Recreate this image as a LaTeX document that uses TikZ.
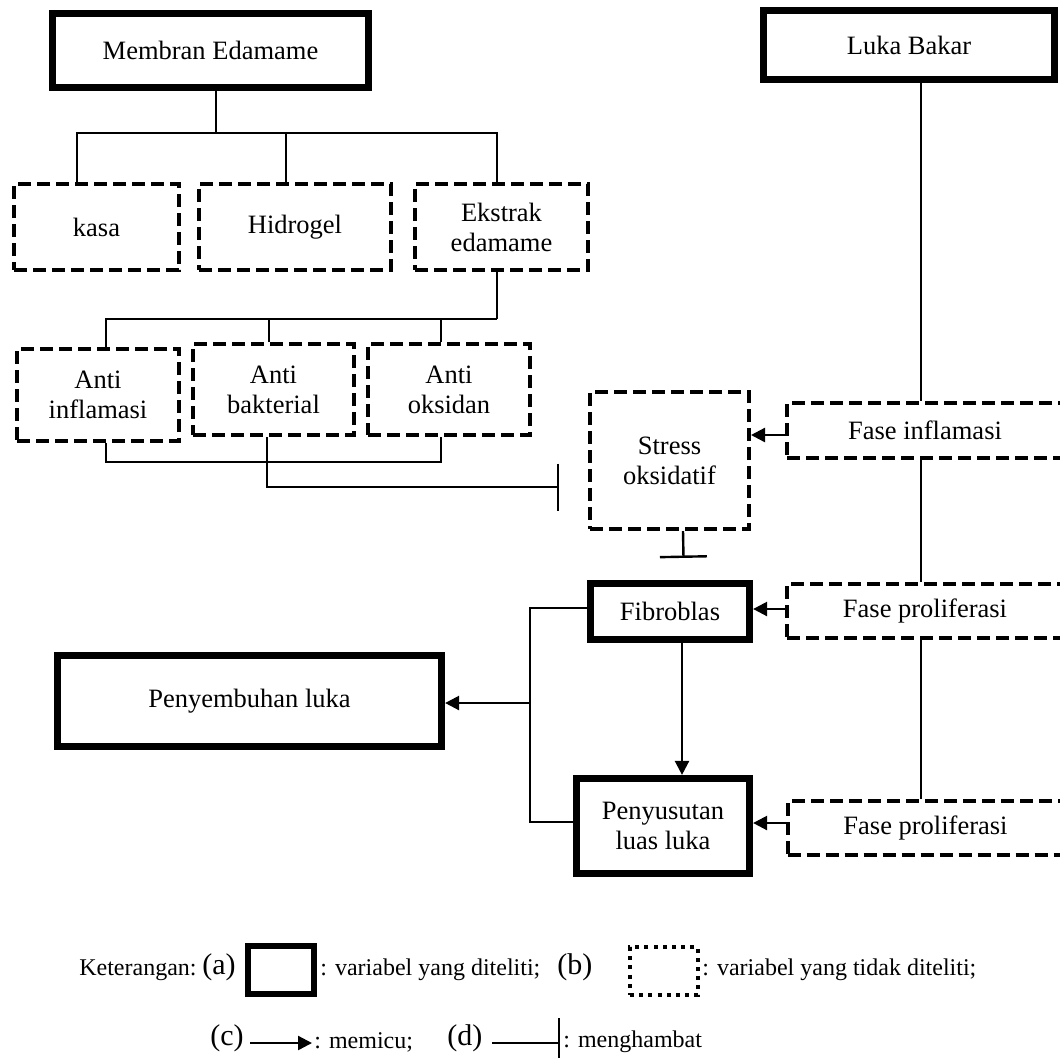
\documentclass[tikz,border=0pt]{standalone}
\usepackage{fontspec}
\setmainfont{Liberation Serif}
\usetikzlibrary{arrows.meta, positioning}

\begin{document}
\begin{tikzpicture}[
    x=0.5pt, y=-0.5pt,
    solidbox/.style={rectangle, draw, line width=3.6pt, align=center, inner sep=0pt,
                     font=\fontsize{13.25}{15}\selectfont},
    dashbox/.style={rectangle, draw, line width=2pt, dash pattern=on 6.5pt off 3pt,
                    align=center, inner sep=0pt, font=\fontsize{13.25}{15}\selectfont},
    link/.style={line width=1.2pt},
    arrow/.style={link, -{Triangle[length=7pt, width=7pt]}},
    inhibit/.style={link, -{Bar[width=23.5pt]}},
    legend/.style={inner sep=0pt, font=\fontsize{12}{14}\selectfont},
    tag/.style={inner sep=0pt, font=\fontsize{15}{17}\selectfont}
  ]
    \useasboundingbox (0,0) rectangle (1060,1057);

    % top row
    \node[solidbox, minimum width=158pt, minimum height=37pt] (memb) at (210.5,50.5) {Membran Edamame};
    \node[solidbox, minimum width=145.5pt, minimum height=34.5pt] (luka) at (909,45) {Luka Bakar};

    \node[dashbox, minimum width=82.5pt, minimum height=43pt] (kasa) at (96.5,227) {kasa};
    \node[dashbox, minimum width=96pt, minimum height=43pt] (hidro) at (295,227) {Hidrogel};
    \node[dashbox, minimum width=86.5pt, minimum height=43pt] (ekstr) at (501.5,227) {Ekstrak\\edamame};

    \node[dashbox, minimum width=81pt, minimum height=46pt] (ainf) at (98,395) {Anti\\inflamasi};
    \node[dashbox, minimum width=80.5pt, minimum height=45.5pt] (abak) at (273.5,389.5) {Anti\\bakterial};
    \node[dashbox, minimum width=81pt, minimum height=45.5pt] (aoks) at (449,389.5) {Anti\\oksidan};

    \node[dashbox, minimum width=79.5pt, minimum height=68.5pt] (stress) at (669.5,460.5) {Stress\\oksidatif};
    \node[dashbox, minimum width=138pt, minimum height=27.5pt] (inf) at (925,430.5) {Fase inflamasi};

    \node[solidbox, minimum width=79.5pt, minimum height=28pt] (fib) at (670,611.5) {Fibroblas};
    \node[dashbox, minimum width=138pt, minimum height=27pt] (pro1) at (925,611) {Fase proliferasi};
    \node[solidbox, minimum width=192pt, minimum height=45.5pt] (heal) at (249.5,701) {Penyembuhan luka};
    \node[solidbox, minimum width=86.5pt, minimum height=47.5pt] (pen) at (663,826) {Penyusutan\\luas luka};
    \node[dashbox, minimum width=138pt, minimum height=27pt] (pro2) at (925.5,828) {Fase proliferasi};

    % membran tree
    \coordinate (bus1) at (216,133);
    \draw[link] ([xshift=2.75pt]memb.south) -- (bus1);
    \draw[link] ([xshift=-9.75pt]kasa.north) |- (bus1) -| ([xshift=-2.25pt]ekstr.north);
    \draw[link] ([xshift=-4.5pt]hidro.north) -- ([xshift=-4.5pt]hidro.north |- bus1);

    \coordinate (bus2) at (497,319);
    \draw[link] ([xshift=-2.25pt]ekstr.south) -- (bus2);
    \draw[link] ([xshift=4pt]ainf.north) |- (bus2);
    \draw[link] ([xshift=-2.25pt]abak.north) -- ([xshift=-2.25pt]abak.north |- bus2);
    \draw[link] ([xshift=-4pt]aoks.north) -- ([xshift=-4pt]aoks.north |- bus2);

    \coordinate (bus3) at (441,462);
    \draw[link] ([xshift=4pt]ainf.south) |- (bus3) -- ([xshift=-4pt]aoks.south);
    \draw[inhibit] ([xshift=-3.25pt]abak.south) |- ([xshift=-14.5pt, yshift=-13.25pt]stress.west);

    % luka bakar chain
    \draw[link] ([xshift=-2pt]inf.north) -- ([xshift=-2pt]inf.north |- luka.south);
    \draw[arrow] ([yshift=-2.25pt]inf.west) -- ([yshift=-2.25pt]inf.west -| stress.east);
    \draw[inhibit] ([xshift=6.75pt]stress.south) -- ([xshift=6.75pt, yshift=11pt]fib.north);
    \draw[link] ([xshift=-2pt]inf.south) -- ([xshift=-2pt]pro1.north);
    \draw[arrow] ([yshift=1pt]pro1.west) -- ([yshift=1pt]pro1.west -| fib.east);
    \draw[link] ([xshift=-2pt]pro1.south) -- ([xshift=-2.25pt]pro2.north);
    \draw[arrow] ([yshift=2.5pt]pro2.west) -- ([yshift=2.5pt]pro2.west -| pen.east);
    \draw[arrow] ([xshift=6pt]fib.south) -- ([xshift=6pt]fib.south |- pen.north);

    \coordinate (rail) at (530,703);
    \draw[link] ([yshift=1.75pt]fib.west) -| (rail) |- ([yshift=2pt]pen.west);
    \draw[arrow] (rail) -- (rail -| heal.east);

    % legend
    \node[legend, anchor=east] (ket) at (197,970) {Keterangan:};
    \node[tag, anchor=west] (la) at (202,967) {(a)};
    \node[solidbox, line width=3pt, minimum width=33pt, minimum height=24pt] (keya) at (281,970) {};
    \node[legend, anchor=west] (texta) at (320,970) {: variabel yang diteliti;};
    \node[tag, anchor=west] (lb) at (557,967) {(b)};
    \node[dashbox, dash pattern=on 2pt off 2.6pt, minimum width=34pt, minimum height=24pt] (keyb) at (664,971) {};
    \node[legend, anchor=west] (textb) at (702,970) {: variabel yang tidak diteliti;};

    \node[tag, anchor=west] (lc) at (210,1038) {(c)};
    \coordinate (c1) at (250,1043);
    \coordinate (c2) at (312,1043);
    \draw[arrow] (c1) -- (c2);
    \node[legend, anchor=west] (textc) at (314,1042) {: memicu;};
    \node[tag, anchor=west] (ld) at (447,1038) {(d)};
    \coordinate (d1) at (492,1043);
    \coordinate (d2) at (560,1043);
    \draw[inhibit, -{Bar[width=25pt]}] (d1) -- (d2);
    \node[legend, anchor=west] (textd) at (563,1042) {: menghambat};
\end{tikzpicture}
\end{document}
